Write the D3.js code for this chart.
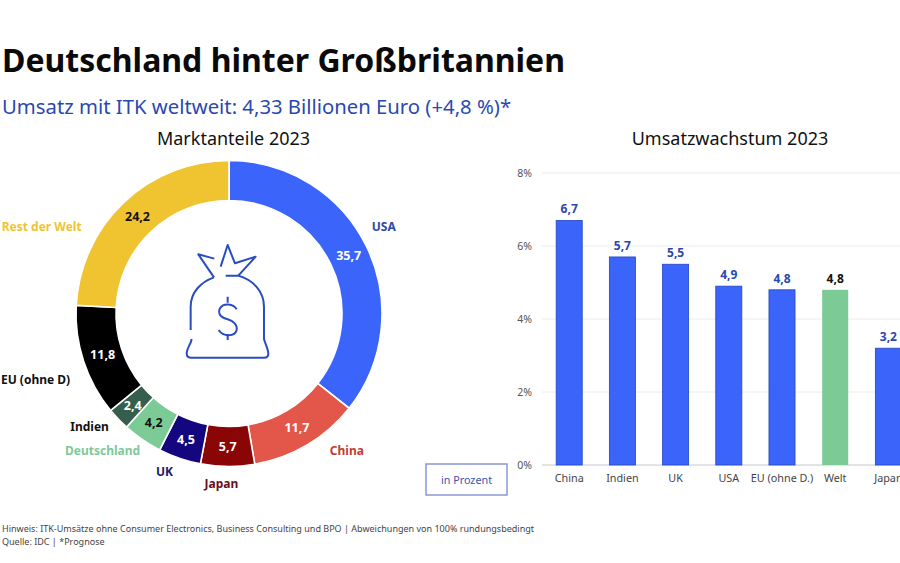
<!DOCTYPE html>
<html>
<head>
<meta charset="utf-8">
<script src="https://cdn.jsdelivr.net/npm/d3@7"></script>
<style>
  body { margin: 0; background: #fff; }
  svg { display: block; }
  text { font-family: "Noto Sans", sans-serif; }
</style>
</head>
<body>
<div id="chart"></div>
<script>
// Marktanteile
const shareNames = ["USA", "China", "Japan", "UK", "Deutschland", "Indien", "EU (ohne D)", "Rest der Welt"];
const shareValues = [35.7, 11.7, 5.7, 4.5, 4.2, 2.4, 11.8, 24.2];

// Umsatzwachstum
const growthNames = ["China", "Indien", "UK", "USA", "EU (ohne D.)", "Welt", "Japan"];
const growthValues = [6.7, 5.7, 5.5, 4.9, 4.8, 4.8, 3.2];
const growthTicks = [0, 2, 4, 6, 8];

// styles per slice, same order as shareNames
const sliceColors = ["#3b64fb", "#e2574a", "#8a0505", "#14067f", "#7ccb96", "#365e4d", "#000000", "#f0c430"];
const nameColors = ["#2a4aa8", "#c23b35", "#6b0d1c", "#1a1a6a", "#7cc99a", "#111111", "#111111", "#efc433"];
const valueColors = ["#fff", "#fff", "#fff", "#fff", "#111", "#fff", "#fff", "#111"];
// hand placement of the outer labels
const nameNudge = [[0, -12], [30, -11], [-6, -2], [-9, -4], [-29, -4], [-15, -5], [-30, 13], [-69, 38]];

const comma = v => d3.format(".1f")(v).replace(".", ",");

const svg = d3.select("#chart").append("svg")
    .attr("width", 900)
    .attr("height", 563);

svg.append("rect").attr("width", 900).attr("height", 563).attr("fill", "#fff");

// headline
svg.append("text").attr("x", 2).attr("y", 72)
    .attr("font-size", 32).attr("font-weight", 700).attr("fill", "#0a0a0a")
    .text("Deutschland hinter Großbritannien");
svg.append("text").attr("x", 2).attr("y", 114)
    .attr("font-size", 20.3).attr("fill", "#2a49b0")
    .text("Umsatz mit ITK weltweit: 4,33 Billionen Euro (+4,8 %)*");
svg.append("text").attr("x", 233.5).attr("y", 145).attr("text-anchor", "middle")
    .attr("font-size", 18).attr("fill", "#111")
    .text("Marktanteile 2023");
svg.append("text").attr("x", 730).attr("y", 145).attr("text-anchor", "middle")
    .attr("font-size", 18).attr("fill", "#111")
    .text("Umsatzwachstum 2023");

// donut
const outerR = 153, innerR = 113, nameR = 172;
const donut = svg.append("g").attr("transform", "translate(229,313.5)");
const pie = d3.pie().sort(null)(shareValues);
const arc = d3.arc().innerRadius(innerR).outerRadius(outerR);

donut.selectAll("path.slice").data(pie).join("path")
    .attr("class", "slice")
    .attr("d", arc)
    .attr("fill", (d, i) => sliceColors[i])
    .attr("stroke", "#fff")
    .attr("stroke-width", 1.6);

donut.selectAll("text.val").data(pie).join("text")
    .attr("class", "val")
    .attr("transform", d => "translate(" + arc.centroid(d) + ")")
    .attr("text-anchor", "middle")
    .attr("dy", "0.35em")
    .attr("font-size", 12.5)
    .attr("font-weight", 700)
    .attr("fill", (d, i) => valueColors[i])
    .text(d => comma(d.value));

donut.selectAll("text.name").data(pie).join("text")
    .attr("class", "name")
    .attr("transform", (d, i) => {
        const a = (d.startAngle + d.endAngle) / 2;
        return "translate(" + (Math.sin(a) * nameR + nameNudge[i][0]) + "," + (-Math.cos(a) * nameR + nameNudge[i][1]) + ")";
    })
    .attr("text-anchor", "middle")
    .attr("dy", "0.35em")
    .attr("font-size", 12)
    .attr("font-weight", 700)
    .attr("fill", (d, i) => nameColors[i])
    .text((d, i) => shareNames[i]);

// money bag in the middle
const bag = svg.append("g")
    .attr("transform", "translate(60,150) scale(0.3333)")
    .attr("fill", "none")
    .attr("stroke", "#2a4cc0")
    .attr("stroke-width", 6)
    .attr("stroke-linejoin", "round");
bag.append("path").attr("d", "M392,540 V470 C392,425 425,395 462,382 M497,377 H535 C580,390 612,425 612,470 V565 C612,575 625,595 625,612 Q625,623 612,623 H392 Q380,623 380,610 C380,595 392,585 395,567");
bag.append("path").attr("d", "M462,382 L415,313 L463,326 M482,350 L503,285 L525,340 L587,320 L535,377");
bag.append("path").attr("d", "M530,478 C520,460 490,458 480,475 C470,495 490,505 503,508 C520,513 533,525 530,540 C525,560 490,562 476,540 M503,440 V458 M503,552 V570");

// bars
const y = d3.scaleLinear().domain([0, 8]).range([465, 173]);
const x = d3.scaleBand().domain(growthNames).range([542.6, 915]).paddingInner(0.51).paddingOuter(0.255);

svg.selectAll("line.grid").data(growthTicks).join("line")
    .attr("class", "grid")
    .attr("x1", 542).attr("x2", 900)
    .attr("y1", d => y(d)).attr("y2", d => y(d))
    .attr("stroke", d => d === 0 ? "#c4c8d0" : "#ececec")
    .attr("stroke-width", 1);

const yAxis = d3.axisLeft(y).tickValues(growthTicks).tickSize(0).tickPadding(10).tickFormat(d => d + "%");
svg.append("g").attr("transform", "translate(542,0)").call(yAxis)
    .call(g => g.select(".domain").remove())
    .call(g => g.selectAll("text").attr("font-size", 10.5).attr("fill", "#555").style("font-family", '"Noto Sans", sans-serif'));

svg.selectAll("rect.bar").data(growthValues).join("rect")
    .attr("class", "bar")
    .attr("x", (d, i) => x(growthNames[i]))
    .attr("width", x.bandwidth())
    .attr("y", d => y(d))
    .attr("height", d => y(0) - y(d))
    .attr("fill", (d, i) => growthNames[i] === "Welt" ? "#7ccb96" : "#3b64fb")
    .attr("stroke", (d, i) => growthNames[i] === "Welt" ? "none" : "#2445c0")
    .attr("stroke-width", 0.8);

svg.selectAll("text.barval").data(growthValues).join("text")
    .attr("class", "barval")
    .attr("x", (d, i) => x(growthNames[i]) + x.bandwidth() / 2)
    .attr("y", d => y(d) - 7)
    .attr("text-anchor", "middle")
    .attr("font-size", 12)
    .attr("font-weight", 700)
    .attr("fill", (d, i) => growthNames[i] === "Welt" ? "#111" : "#2a49b0")
    .text(d => comma(d));

const xAxis = d3.axisBottom(x).tickSize(0).tickPadding(9);
svg.append("g").attr("transform", "translate(0,465)").call(xAxis)
    .call(g => g.select(".domain").remove())
    .call(g => g.selectAll("text").attr("font-size", 10.8).attr("fill", "#444").style("font-family", '"Noto Sans", sans-serif'));

// unit box
svg.append("rect").attr("x", 426).attr("y", 464).attr("width", 81).attr("height", 31)
    .attr("fill", "#fff").attr("stroke", "#8a98d8").attr("stroke-width", 1.5);
svg.append("text").attr("x", 466.5).attr("y", 484).attr("text-anchor", "middle")
    .attr("font-size", 10.8).attr("fill", "#3a55b0")
    .text("in Prozent");

// footnotes
svg.append("text").attr("x", 2).attr("y", 532)
    .attr("font-size", 9.03).attr("fill", "#444")
    .text("Hinweis: ITK-Umsätze ohne Consumer Electronics, Business Consulting und BPO  | Abweichungen von 100% rundungsbedingt");
svg.append("text").attr("x", 2).attr("y", 545)
    .attr("font-size", 9.03).attr("fill", "#444")
    .text("Quelle: IDC | *Prognose");
</script>
</body>
</html>
